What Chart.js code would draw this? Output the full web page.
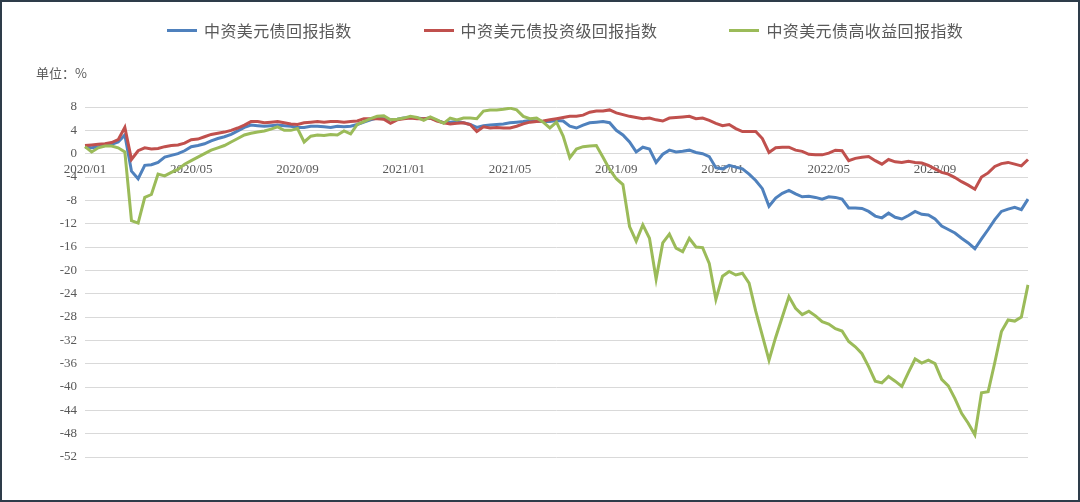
<!DOCTYPE html>
<html>
<head>
<meta charset="utf-8">
<script src="https://cdn.jsdelivr.net/npm/chart.js@4.4.1/dist/chart.umd.min.js"></script>
<style>
html,body{margin:0;padding:0;background:#fff;}
#wrap{position:relative;width:1080px;height:502px;overflow:hidden;background:#fff;}
#frame{position:absolute;left:0;top:0;width:1080px;height:502px;box-sizing:border-box;border:2px solid #2e3c4a;pointer-events:none;}
#chart{position:absolute;left:0;top:0;}
#legend{position:absolute;left:167px;top:20px;display:flex;gap:72px;font-family:"Noto Sans CJK SC";font-size:16px;line-height:20px;color:#595959;letter-spacing:0.4px;white-space:nowrap;}
.item{display:flex;align-items:center;}
.swatch{width:30px;height:3px;margin-right:7px;}
#unit{position:absolute;left:36px;top:65px;font-family:"Noto Sans CJK SC";font-size:13px;line-height:16px;color:#595959;}
</style>
</head>
<body>
<div id="wrap">
  <canvas id="chart" width="1080" height="502"></canvas>
  <div id="legend"></div>
  <div id="unit">单位：%</div>
  <div id="frame"></div>
</div>
<script>
// Months covered; four samples per month
const months = ['2020/01','2020/02','2020/03','2020/04','2020/05','2020/06','2020/07','2020/08','2020/09','2020/10','2020/11','2020/12',
  '2021/01','2021/02','2021/03','2021/04','2021/05','2021/06','2021/07','2021/08','2021/09','2021/10','2021/11','2021/12',
  '2022/01','2022/02','2022/03','2022/04','2022/05','2022/06','2022/07','2022/08','2022/09','2022/10','2022/11','2022/12'];
const categories = months.flatMap(m => [m + '-1', m + '-2', m + '-3', m + '-4']).slice(0, 143);
const tickLabels = ['2020/01','2020/05','2020/09','2021/01','2021/05','2021/09','2022/01','2022/05','2022/09'];
const yTicks = {min: -52, max: 8, step: 4};

const seriesNames = ['中资美元债回报指数', '中资美元债投资级回报指数', '中资美元债高收益回报指数'];
const seriesColors = ['#4F81BD', '#C0504D', '#9BBB59'];

const totalReturn = [1.1,1.0,1.2,1.4,1.6,2.0,3.2,-3.0,-4.3,-2.0,-1.9,-1.5,-0.6,-0.3,0.0,0.5,1.2,1.4,1.7,2.2,
  2.6,2.9,3.3,3.9,4.5,4.9,4.8,4.7,4.8,4.9,4.8,4.7,4.5,4.5,4.7,4.7,4.6,4.5,4.7,4.6,
  4.7,5.0,5.4,5.8,6.1,6.0,5.8,5.9,6.1,6.2,6.1,6.0,6.1,5.7,5.3,5.4,5.5,5.3,5.0,4.5,
  4.8,4.9,5.0,5.1,5.3,5.4,5.5,5.7,5.6,5.5,5.5,5.7,5.6,4.7,4.4,4.9,5.3,5.4,5.5,5.3,
  4.0,3.2,2.0,0.3,1.1,0.8,-1.5,-0.1,0.6,0.3,0.4,0.6,0.2,0.0,-0.5,-2.4,-2.6,-2.0,-2.3,-2.6,
  -3.5,-4.6,-6.0,-9.0,-7.6,-6.8,-6.3,-6.9,-7.4,-7.3,-7.5,-7.8,-7.4,-7.5,-7.8,-9.3,-9.3,-9.4,-9.9,-10.7,
  -11.0,-10.2,-10.9,-11.2,-10.6,-9.9,-10.4,-10.5,-11.2,-12.4,-13.0,-13.6,-14.5,-15.3,-16.3,-14.6,-13.0,-11.3,-9.9,-9.5,
  -9.2,-9.6,-7.8];

const investGrade = [1.4,1.5,1.6,1.7,1.9,2.4,4.5,-1.0,0.5,1.0,0.8,0.9,1.2,1.4,1.5,1.8,2.4,2.5,2.9,3.3,
  3.5,3.7,4.0,4.4,4.9,5.5,5.5,5.3,5.4,5.5,5.3,5.1,5.0,5.3,5.4,5.5,5.4,5.5,5.5,5.4,
  5.5,5.6,6.0,6.0,6.0,5.9,5.2,5.8,6.0,6.1,6.0,6.0,6.1,5.6,5.3,5.1,5.2,5.3,5.0,3.8,
  4.6,4.4,4.5,4.4,4.4,4.7,5.1,5.4,5.5,5.6,5.8,6.0,6.2,6.4,6.4,6.6,7.1,7.3,7.3,7.5,
  7.0,6.7,6.4,6.2,6.0,6.1,5.8,5.6,6.1,6.2,6.3,6.4,6.0,6.1,5.7,5.2,4.8,5.0,4.3,3.8,
  3.8,3.8,2.6,0.2,1.0,1.1,1.1,0.6,0.4,-0.1,-0.2,-0.2,0.1,0.6,0.5,-1.2,-0.8,-0.6,-0.5,-1.2,
  -1.8,-1.0,-1.4,-1.5,-1.3,-1.5,-1.6,-2.0,-2.6,-3.2,-3.5,-4.1,-4.8,-5.4,-6.1,-4.0,-3.3,-2.2,-1.7,-1.5,
  -1.8,-2.1,-1.0];

const highYield = [1.2,0.3,1.0,1.3,1.3,1.0,0.3,-11.5,-11.9,-7.5,-7.0,-3.5,-3.8,-3.2,-2.7,-1.8,-1.2,-0.6,0.0,0.6,
  1.0,1.4,2.0,2.6,3.2,3.5,3.7,3.9,4.2,4.6,4.0,4.0,4.3,2.0,3.0,3.2,3.1,3.3,3.2,3.9,
  3.4,5.0,5.5,6.0,6.4,6.5,5.8,5.9,6.1,6.4,6.2,5.7,6.3,5.8,5.2,6.1,5.8,6.1,6.1,6.0,
  7.3,7.5,7.5,7.6,7.8,7.5,6.4,6.0,6.1,5.4,4.4,5.4,3.0,-0.7,0.8,1.2,1.3,1.4,-0.6,-2.7,
  -4.3,-5.3,-12.5,-15.0,-12.2,-14.5,-21.5,-15.3,-13.8,-16.2,-16.8,-14.5,-16.0,-16.1,-18.8,-25.0,-21.0,-20.2,-20.8,-20.5,
  -22.2,-27.0,-31.2,-35.4,-31.5,-28.0,-24.5,-26.5,-27.6,-27.0,-27.8,-28.8,-29.2,-30.0,-30.4,-32.2,-33.1,-34.3,-36.5,-39.0,
  -39.3,-38.2,-39.0,-39.9,-37.5,-35.2,-35.9,-35.4,-36.0,-38.7,-39.8,-42.0,-44.5,-46.2,-48.2,-41.0,-40.8,-35.8,-30.5,-28.5,
  -28.7,-28.0,-22.5];

const seriesValues = [totalReturn, investGrade, highYield];
const drawOrder = [3, 2, 1];

const datasets = seriesValues.map((vals, k) => ({
  label: seriesNames[k],
  data: vals,
  borderColor: seriesColors[k],
  backgroundColor: seriesColors[k],
  borderWidth: 3,
  pointRadius: 0,
  tension: 0,
  fill: false,
  order: drawOrder[k]
}));

// HTML legend from dataset names/colours
const legend = document.getElementById('legend');
datasets.forEach(ds => {
  const it = document.createElement('div'); it.className = 'item';
  const sw = document.createElement('span'); sw.className = 'swatch'; sw.style.background = ds.borderColor;
  const tx = document.createElement('span'); tx.textContent = ds.label;
  it.appendChild(sw); it.appendChild(tx); legend.appendChild(it);
});

const tickFont = {family: '"Liberation Serif", "Times New Roman", serif', size: 13};

new Chart(document.getElementById('chart'), {
  type: 'line',
  data: {labels: categories, datasets},
  options: {
    responsive: false,
    animation: false,
    devicePixelRatio: 1,
    layout: {padding: {left: 0, right: 52, top: 107, bottom: 45}},
    plugins: {legend: {display: false}, tooltip: {enabled: false}},
    scales: {
      x: {
        type: 'category',
        position: {y: 0},
        offset: false,
        grid: {display: false, drawTicks: false},
        border: {display: false},
        ticks: {
          autoSkip: false, maxRotation: 0, minRotation: 0, padding: 8,
          color: '#595959', font: tickFont,
          callback: function(val, idx) {
            const m = categories[idx].slice(0, 7);
            const first = idx === 0 || categories[idx - 1].slice(0, 7) !== m;
            return (first && tickLabels.includes(m)) ? m : '';
          }
        }
      },
      y: {
        min: yTicks.min, max: yTicks.max,
        afterFit: s => { s.width = 85; },
        grid: {color: '#d9d9d9', lineWidth: 1, drawTicks: false},
        border: {display: false},
        ticks: {stepSize: yTicks.step, padding: 8, color: '#595959', font: tickFont}
      }
    }
  }
});
</script>
</body>
</html>
